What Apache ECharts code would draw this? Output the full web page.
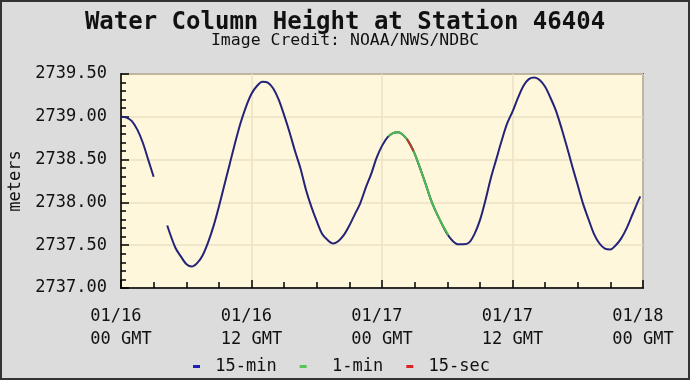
<!DOCTYPE html>
<html>
<head>
<meta charset="utf-8">
<script src="https://cdn.jsdelivr.net/npm/echarts@6/dist/echarts.min.js"></script>
<style>
html,body{margin:0;padding:0;background:#dcdcdc;}
#chart{width:690px;height:380px;}
</style>
</head>
<body>
<div id="chart"></div>
<script>
// Hours since 01/16 00 GMT
const hours15min = [0,0.5,1,1.5,2,2.5,3,3.6,4.25,5,5.5,6,6.5,7,7.5,8,8.5,9,9.5,10,10.5,11,11.5,12,12.5,13,13.5,14,14.5,15,15.5,16,16.5,17,17.5,18,18.5,19,19.5,20,20.5,21,21.5,22,22.5,23,23.5,24,24.5,25,25.5,26,26.5,27,27.5,28,28.5,29,29.5,30,30.5,31,31.5,32,32.5,33,33.5,34,34.5,35,35.5,36,36.5,37,37.5,38,38.5,39,39.5,40,40.5,41,41.5,42,42.5,43,43.5,44,44.5,45,45.5,46,46.5,47,47.5,47.75];
const values15min = [2739.00,2738.99,2738.95,2738.85,2738.70,2738.50,2738.30,null,2737.73,2737.47,2737.37,2737.28,2737.25,2737.29,2737.38,2737.53,2737.72,2737.95,2738.20,2738.45,2738.70,2738.93,2739.12,2739.27,2739.36,2739.41,2739.40,2739.33,2739.20,2739.02,2738.82,2738.60,2738.40,2738.15,2737.95,2737.78,2737.63,2737.56,2737.52,2737.55,2737.62,2737.73,2737.86,2737.99,2738.17,2738.33,2738.52,2738.66,2738.76,2738.81,2738.82,2738.78,2738.70,2738.57,2738.40,2738.22,2738.03,2737.88,2737.75,2737.63,2737.55,2737.51,2737.51,2737.53,2737.63,2737.79,2738.02,2738.28,2738.50,2738.72,2738.92,2739.06,2739.22,2739.36,2739.44,2739.46,2739.43,2739.35,2739.22,2739.07,2738.87,2738.65,2738.42,2738.20,2737.98,2737.80,2737.63,2737.52,2737.46,2737.45,2737.50,2737.58,2737.70,2737.85,2738.00,2738.07];
const hours1min = [24.6,25,25.5,26,26.5,27,27.5,28,28.5,29,29.5,30.1];
const values1min = [2738.77,2738.81,2738.82,2738.78,2738.70,2738.57,2738.40,2738.22,2738.03,2737.88,2737.75,2737.62];
const hours15sec = [26.3,26.6,26.9];
const values15sec = [2738.74,2738.67,2738.60];
const seriesNames = ['15-min','1-min','15-sec'];
const xTickValues = [0,12,24,36,48];
const xTickLabels = ['01/16 \n00 GMT','01/16 \n12 GMT','01/17 \n00 GMT','01/17 \n12 GMT','01/18 \n00 GMT'];

const pairs = (xs, ys) => xs.map((x, i) => [x, ys[i] === null ? '-' : ys[i]]);
const mono = 'DejaVu Sans Mono';

const chart = echarts.init(document.getElementById('chart'), null, {renderer: 'canvas'});
chart.setOption({
  backgroundColor: '#dcdcdc',
  animation: false,
  title: [{
    text: 'Water Column Height at Station 46404',
    left: 'center', top: 6,
    textStyle: {fontFamily: mono, fontWeight: 'bold', fontSize: 24, lineHeight: 24, color: '#111'}
  }, {
    text: 'Image Credit: NOAA/NWS/NDBC',
    left: 'center', top: 28,
    textStyle: {fontFamily: mono, fontWeight: 'normal', fontSize: 16.5, lineHeight: 16, color: '#111'}
  }],
  legend: {
    left: 188,
    top: 353,
    itemWidth: 7,
    itemHeight: 3,
    itemGap: 23,
    icon: 'rect',
    data: seriesNames,
    formatter: n => (n === '1-min' ? '  ' : ' ') + n,
    textStyle: {fontFamily: mono, fontSize: 17, color: '#111'}
  },
  grid: {
    left: 121, right: 47, top: 74, bottom: 92,
    outerBoundsMode: 'none', containLabel: false,
    show: true, backgroundColor: '#fff7dc', borderColor: '#000', borderWidth: 1.5
  },
  xAxis: {
    type: 'value', min: 0, max: 48, interval: 12,
    axisLine: {show: true, onZero: false, lineStyle: {color: '#000', width: 1.5}},
    axisTick: {show: true, inside: true, length: 8, lineStyle: {color: '#000', width: 1.5}},
    minorTick: {show: true, splitNumber: 4, length: 6, lineStyle: {color: '#000', width: 1.5}},
    splitLine: {show: true, lineStyle: {color: '#ebe0c4', width: 1.5}},
    axisLabel: {
      margin: 17, fontFamily: mono, fontSize: 17, lineHeight: 23, color: '#111',
      formatter: v => { const i = xTickValues.indexOf(v); return i >= 0 ? xTickLabels[i] : ''; }
    }
  },
  yAxis: {
    type: 'value', min: 2737, max: 2739.5, interval: 0.5,
    name: 'meters', nameLocation: 'middle', nameGap: 95, nameRotate: 90,
    nameTextStyle: {fontFamily: mono, fontSize: 17, color: '#111'},
    axisLine: {show: true, lineStyle: {color: '#000', width: 1.5}},
    axisTick: {show: true, inside: true, length: 8, lineStyle: {color: '#000', width: 1.5}},
    minorTick: {show: true, splitNumber: 5, length: 5, lineStyle: {color: '#000', width: 1.5}},
    splitLine: {show: true, lineStyle: {color: '#ebe0c4', width: 1.5}},
    axisLabel: {margin: 14, fontFamily: mono, fontSize: 17, color: '#111', formatter: v => v.toFixed(2)}
  },
  series: [
    {name: seriesNames[0], type: 'line', data: pairs(hours15min, values15min), showSymbol: false, smooth: 0.3, connectNulls: false,
     itemStyle: {color: '#2020b0'}, lineStyle: {color: '#23237a', width: 2}},
    {name: seriesNames[1], type: 'line', data: pairs(hours1min, values1min), showSymbol: false, smooth: 0.3,
     itemStyle: {color: '#55c455'}, lineStyle: {color: '#4cbc4c', width: 2}},
    {name: seriesNames[2], type: 'line', data: pairs(hours15sec, values15sec), showSymbol: false, smooth: 0.3,
     itemStyle: {color: '#dd2222'}, lineStyle: {color: '#b83a28', width: 2}}
  ],
  graphic: [{
    type: 'rect', silent: true, z: 100,
    shape: {x: 1, y: 1, width: 688, height: 378},
    style: {fill: 'none', stroke: '#333', lineWidth: 2}
  }]
});
</script>
</body>
</html>
